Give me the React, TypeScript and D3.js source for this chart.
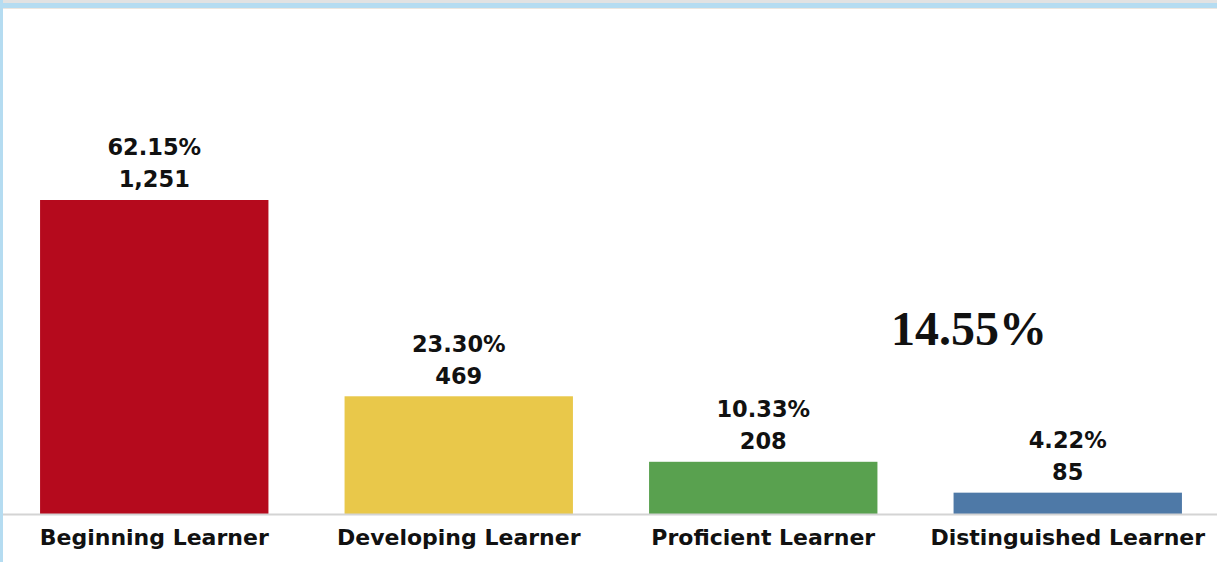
import React, { useEffect } from "react";
import * as d3 from "d3";

const categories = ["Beginning Learner", "Developing Learner", "Proficient Learner", "Distinguished Learner"];
const counts = [1251, 469, 208, 85];
const percents = ["62.15%", "23.30%", "10.33%", "4.22%"];
const colors = ["#B50A1D", "#E9C84A", "#59A14F", "#4E79A7"];
const summaryLabel = "14.55%";

const W = 1217;
const H = 562;

export default function App() {
  useEffect(() => {
    document.body.style.margin = "0";
  }, []);

  const x = d3.scaleBand<string>().domain(categories).range([2, 1220]).paddingInner(0.25).paddingOuter(0.125);
  const y = d3.scaleLinear().domain([0, 2000]).range([514, 12]);
  const fmt = d3.format(",");
  const font = "'DejaVu Sans', sans-serif";

  return (
    <svg width={W} height={H} style={{ display: "block" }}>
      <rect x={0} y={0} width={W} height={H} fill="#ffffff" />
      <rect x={0} y={0} width={W} height={3} fill="#e2e2e2" />
      <rect x={0} y={3} width={W} height={5} fill="#b5dcf1" />
      <rect x={0} y={8} width={W} height={1} fill="#ece6df" />
      <rect x={0} y={0} width={3} height={H} fill="#b5dcf1" />
      {categories.map((c, i) => (
        <g key={c}>
          <rect x={x(c)} y={y(counts[i])} width={x.bandwidth()} height={y(0) - y(counts[i])} fill={colors[i]} />
          <text x={(x(c) as number) + x.bandwidth() / 2} y={y(counts[i]) - 44.5} textAnchor="middle"
            fontFamily={font} fontWeight="bold" fontSize={22.5} fill="#111">{percents[i]}</text>
          <text x={(x(c) as number) + x.bandwidth() / 2} y={y(counts[i]) - 12.5} textAnchor="middle"
            fontFamily={font} fontWeight="bold" fontSize={22.5} fill="#111">{fmt(counts[i])}</text>
          <text x={(x(c) as number) + x.bandwidth() / 2} y={545} textAnchor="middle"
            fontFamily={font} fontWeight="bold" fontSize={22} fill="#111">{c}</text>
        </g>
      ))}
      <line x1={3} x2={W} y1={514.5} y2={514.5} stroke="#d4d4d4" strokeWidth={2} />
      <text x={891} y={345} fontFamily="'Liberation Serif', 'Times New Roman', serif" fontWeight="bold" fontSize={48} fill="#111">{summaryLabel}</text>
    </svg>
  );
}
